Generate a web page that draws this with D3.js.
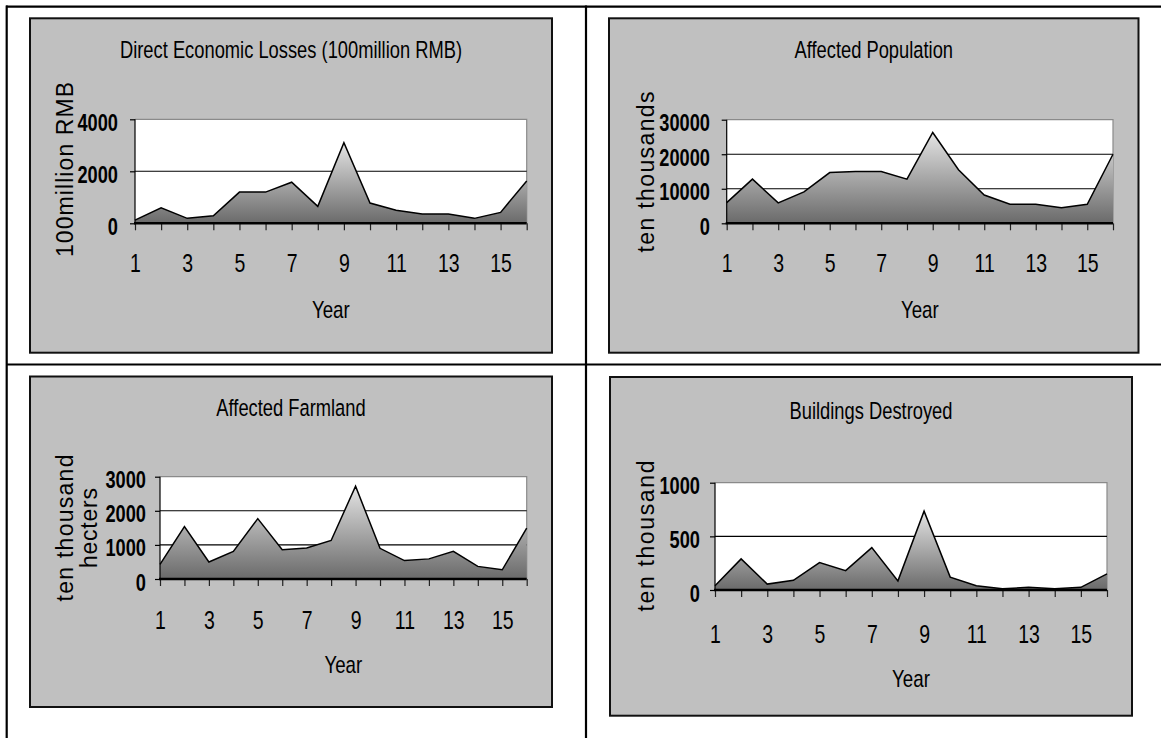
<!DOCTYPE html>
<html><head><meta charset="utf-8">
<script src="https://cdn.jsdelivr.net/npm/d3@7"></script>
<style>
body{margin:0;background:#fff;}
svg{display:block;font-family:"Liberation Sans",Arial,sans-serif;}
</style>
</head><body>
<svg id="c" width="1161" height="738"></svg>
<script>
// ---- data ----
const years = [1,2,3,4,5,6,7,8,9,10,11,12,13,14,15,16];
const xTickLabels = [1,3,5,7,9,11,13,15];
const economicLosses = [120,600,190,290,1200,1200,1580,650,3100,780,500,360,360,190,420,1630];
const affectedPopulation = [6000,12800,5900,9100,14700,15000,15000,12800,26300,15500,8200,5500,5500,4500,5500,20000];
const affectedFarmland = [430,1540,500,810,1770,860,910,1130,2720,900,540,590,810,370,270,1490];
const buildingsDestroyed = [40,290,55,90,255,180,395,85,735,120,40,12,25,12,25,150];
const lossTicks = [0,2000,4000];
const popTicks = [0,10000,20000,30000];
const farmTicks = [0,1000,2000,3000];
const buildTicks = [0,500,1000];
const titles = ["Direct Economic Losses (100million RMB)","Affected Population","Affected Farmland","Buildings Destroyed"];
const yAxisLabels = [["100million RMB"],["ten thousands"],["ten thousand","hecters"],["ten thousand"]];
const xAxisLabel = "Year";

// ---- layout ----
const panels = [
  {values:economicLosses, ticks:lossTicks, title:titles[0], ylab:yAxisLabels[0],
   box:[30,18.3,552,352.7], plot:[135,119.3,526.7,223.3], titleY:58, yearY:318, xTickY:272,
   labRight:118, ylabPos:[{x:73,len:175,cy:169.5}]},
  {values:affectedPopulation, ticks:popTicks, title:titles[1], ylab:yAxisLabels[1],
   box:[609,18.3,1138.5,352.7], plot:[726.7,119.7,1113,223.3], titleY:58, yearY:318, xTickY:272,
   labRight:710, ylabPos:[{x:654,len:161,cy:172}]},
  {values:affectedFarmland, ticks:farmTicks, title:titles[2], ylab:yAxisLabels[2],
   box:[30,376.5,552,707], plot:[160,476.7,526.7,579], titleY:415.5, yearY:673, xTickY:629,
   labRight:146, ylabPos:[{x:73,len:147,cy:528},{x:97,len:80,cy:528}]},
  {values:buildingsDestroyed, ticks:buildTicks, title:titles[3], ylab:yAxisLabels[3],
   box:[610,377,1132,715.7], plot:[715,482.7,1107,590], titleY:419, yearY:687, xTickY:643,
   labRight:700, ylabPos:[{x:654,len:151,cy:536}]}
];
const SX = 0.78;

const svg = d3.select("#c");
const defs = svg.append("defs");
const grad = defs.append("linearGradient").attr("id","ag")
  .attr("x1",0).attr("y1",0).attr("x2",0).attr("y2",1);
grad.append("stop").attr("offset","0%").attr("stop-color","#e4e4e4");
grad.append("stop").attr("offset","100%").attr("stop-color","#6a6a6a");

// table lines
const tl = svg.append("g").attr("stroke","#000").attr("stroke-width",2.2);
tl.append("line").attr("x1",6).attr("x2",1161).attr("y1",6.7).attr("y2",6.7);
tl.append("line").attr("x1",6).attr("x2",1161).attr("y1",364.5).attr("y2",364.5);
tl.append("line").attr("x1",6.7).attr("x2",6.7).attr("y1",5.6).attr("y2",738);
tl.append("line").attr("x1",586).attr("x2",586).attr("y1",5.6).attr("y2",738);

function hText(g, x, y, txt, size, weight, anchor, sx){
  return g.append("text")
    .attr("transform",`translate(${x},${y}) scale(${sx},1)`)
    .attr("text-anchor",anchor).attr("font-size",size).attr("font-weight",weight)
    .attr("fill","#000").text(txt);
}

panels.forEach(p=>{
  const g = svg.append("g");
  const [bx0,by0,bx1,by1] = p.box;
  g.append("rect").attr("x",bx0).attr("y",by0).attr("width",bx1-bx0).attr("height",by1-by0)
    .attr("fill","#c0c0c0").attr("stroke","#111").attr("stroke-width",2);
  const [L,T,R,B] = p.plot;
  const x = d3.scaleLinear().domain([years[0],years[years.length-1]]).range([L,R]);
  const y = d3.scaleLinear().domain([0,d3.max(p.ticks)]).range([B,T]);

  g.append("rect").attr("x",L).attr("y",T).attr("width",R-L).attr("height",B-T).attr("fill","#fff");
  g.append("path").attr("d",`M${L},${T}H${R}V${B}`).attr("fill","none").attr("stroke","#8a8a8a").attr("stroke-width",1.2);
  g.selectAll(".gl").data(p.ticks.slice(1,-1)).join("line")
    .attr("x1",L).attr("x2",R).attr("y1",d=>y(d)).attr("y2",d=>y(d))
    .attr("stroke","#000").attr("stroke-width",1.1);

  const data = years.map((yr,i)=>({yr, v:p.values[i]}));
  g.append("path").datum(data)
    .attr("d", d3.area().x(d=>x(d.yr)).y0(y(0)).y1(d=>y(d.v)))
    .attr("fill","url(#ag)");
  g.append("path").datum(data)
    .attr("d", d3.line().x(d=>x(d.yr)).y(d=>y(d.v)))
    .attr("fill","none").attr("stroke","#000").attr("stroke-width",1.5).attr("stroke-linejoin","miter");

  // x axis
  const xa = g.append("g").attr("transform",`translate(0,${B})`)
    .call(d3.axisBottom(x).tickValues(years).tickSize(7)
      .tickFormat(d=> xTickLabels.includes(d) ? String(d) : ""));
  xa.attr("font-size",null).attr("font-family",null);
  xa.select(".domain").remove();
  xa.selectAll(".tick line").attr("stroke","#222").attr("stroke-width",1.2);
  xa.selectAll(".tick text")
    .attr("x",null).attr("y",null).attr("dy",null)
    .attr("transform",`translate(0,${p.xTickY-B}) scale(${SX},1)`)
    .attr("font-size",25).attr("fill","#000");
  g.append("line").attr("x1",L-1).attr("x2",R).attr("y1",B).attr("y2",B)
    .attr("stroke","#000").attr("stroke-width",2.4);

  // y axis
  const ya = g.append("g").attr("transform",`translate(${L},0)`)
    .call(d3.axisLeft(y).tickValues(p.ticks).tickSize(5).tickFormat(d3.format("d")));
  ya.attr("font-size",null).attr("font-family",null);
  ya.select(".domain").attr("d",`M0,${T}V${B}`).attr("stroke","#000").attr("stroke-width",1.2);
  ya.selectAll(".tick line").attr("stroke","#000").attr("stroke-width",1.2);
  ya.selectAll(".tick text")
    .attr("x",null).attr("dy",null)
    .attr("transform",`translate(${p.labRight-L},11) scale(0.76,1)`)
    .attr("text-anchor","end").attr("font-size",24).attr("font-weight","bold").attr("fill","#000");

  // title and axis labels
  hText(g, (bx0+bx1)/2, p.titleY, p.title, 23.5, "normal", "middle", SX);
  hText(g, (L+R)/2, p.yearY, xAxisLabel, 24, "normal", "middle", SX);
  p.ylab.forEach((t,i)=>{
    const pos = p.ylabPos[i];
    g.append("text")
      .attr("transform",`translate(${pos.x},${pos.cy}) rotate(-90)`)
      .attr("text-anchor","middle").attr("font-size",23)
      .attr("textLength",pos.len).attr("lengthAdjust","spacing")
      .attr("fill","#000").text(t);
  });
});
</script>
</body></html>
